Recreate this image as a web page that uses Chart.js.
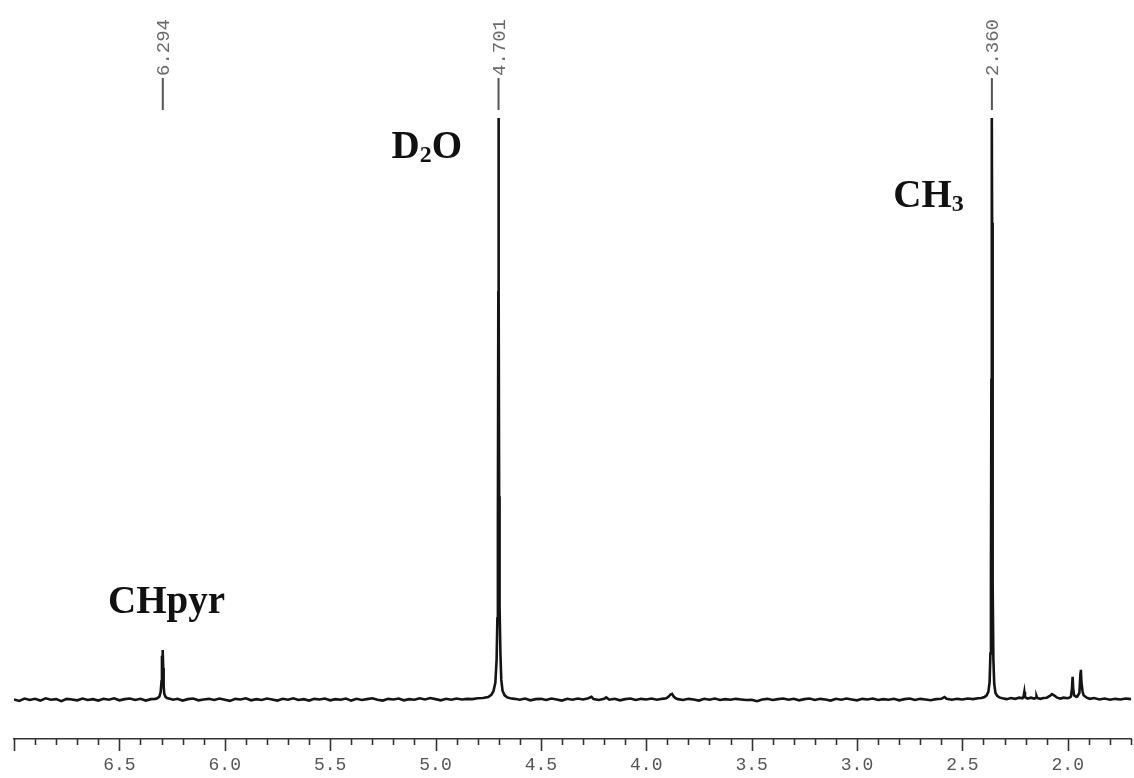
<!DOCTYPE html>
<html>
<head>
<meta charset="utf-8">
<title>1H NMR spectrum</title>
<script src="https://cdn.jsdelivr.net/npm/chart.js@4/dist/chart.umd.min.js"></script>
<style>
  html, body { margin: 0; padding: 0; background: #ffffff; }
  #wrap { width: 1134px; height: 778px; }
</style>
</head>
<body>
<div id="wrap"><canvas id="nmr" width="1134" height="778"></canvas></div>
<script>
// Chemical shift (ppm) of each recorded point, low field on the left.
const shiftPpm = [
  // 7.00 - 6.33 baseline
  7.000, 6.975, 6.950, 6.925, 6.900, 6.875, 6.850, 6.825, 6.800, 6.775, 6.750, 6.725, 6.700, 6.675,
  6.650, 6.625, 6.600, 6.575, 6.550, 6.525, 6.500, 6.475, 6.450, 6.425, 6.400, 6.375, 6.350, 6.330,
  // CHpyr signal
  6.320, 6.310, 6.304, 6.300, 6.298, 6.2965, 6.295, 6.294, 6.292, 6.290, 6.287, 6.282, 6.275, 6.260, 6.245,
  // 6.225 - 4.80 baseline
  6.225, 6.200, 6.175, 6.150, 6.125, 6.100, 6.075, 6.050, 6.025, 6.000, 5.975, 5.950, 5.925, 5.900, 5.875,
  5.850, 5.825, 5.800, 5.775, 5.750, 5.725, 5.700, 5.675, 5.650, 5.625, 5.600, 5.575, 5.550, 5.525, 5.500,
  5.475, 5.450, 5.425, 5.400, 5.375, 5.350, 5.325, 5.300, 5.275, 5.250, 5.225, 5.200, 5.175, 5.150, 5.125,
  5.100, 5.075, 5.050, 5.025, 5.000, 4.975, 4.950, 4.925, 4.900, 4.875, 4.850, 4.825, 4.800,
  // D2O (HDO) signal
  4.775, 4.750, 4.735, 4.725, 4.716, 4.710, 4.7065, 4.704, 4.702, 4.701, 4.700, 4.698, 4.696, 4.692, 4.688,
  4.682, 4.672, 4.660, 4.645,
  // 4.625 - 3.925 baseline
  4.625, 4.600, 4.575, 4.550, 4.525, 4.500, 4.475, 4.450, 4.425, 4.400, 4.375, 4.350, 4.325, 4.300, 4.275,
  4.260, 4.250, 4.225, 4.200, 4.190, 4.175, 4.150, 4.125, 4.100, 4.075, 4.050, 4.025, 4.000, 3.975, 3.950,
  3.925,
  // small signal near 3.88
  3.905, 3.895, 3.885, 3.878, 3.870, 3.860,
  // 3.85 - 2.41 baseline
  3.850, 3.825, 3.800, 3.775, 3.750, 3.725, 3.700, 3.675, 3.650, 3.625, 3.600, 3.575, 3.550, 3.525, 3.500,
  3.475, 3.450, 3.425, 3.400, 3.375, 3.350, 3.325, 3.300, 3.275, 3.250, 3.225, 3.200, 3.175, 3.150, 3.125,
  3.100, 3.075, 3.050, 3.025, 3.000, 2.975, 2.950, 2.925, 2.900, 2.875, 2.850, 2.825, 2.800, 2.775, 2.750,
  2.725, 2.700, 2.675, 2.650, 2.625, 2.600, 2.585, 2.575, 2.550, 2.525, 2.500, 2.475, 2.450, 2.425, 2.410,
  // CH3 signal
  2.395, 2.385, 2.377, 2.371, 2.367, 2.3645, 2.3625, 2.3610, 2.3600, 2.3590, 2.3575, 2.3555, 2.353, 2.349, 2.343,
  2.335, 2.325,
  // 2.31 - 1.70 with minor signals
  2.310, 2.290, 2.270, 2.250, 2.230, 2.215, 2.210, 2.206, 2.203, 2.190, 2.175, 2.160, 2.150, 2.148, 2.145,
  2.130, 2.115, 2.100, 2.085, 2.075, 2.065, 2.050, 2.035, 2.020, 2.000, 1.990, 1.985, 1.980, 1.977, 1.974,
  1.970, 1.960, 1.955, 1.945, 1.940, 1.938, 1.935, 1.930, 1.925, 1.910, 1.895, 1.875, 1.850, 1.825, 1.800,
  1.775, 1.750, 1.725, 1.700
];

// Intensity at each shift (0 = baseline, 100 = top of the plot window).
const intensity = [
  0.10, -0.15, 0.25, 0.00, 0.20, -0.10, 0.30, 0.05, 0.15, -0.20, 0.20, 0.10, -0.05, 0.25,
  0.00, 0.15, -0.10, 0.20, 0.05, 0.30, -0.05, 0.15, 0.25, 0.00, 0.20, -0.10, 0.15, 0.20,

  0.30, 0.60, 1.40, 3.20, 7.60, 6.80, 8.00, 8.60, 5.50, 2.40, 1.10, 0.60, 0.35, 0.20, 0.05,

  0.20, -0.10, 0.15, 0.25, -0.05, 0.10, 0.20, 0.00, 0.25, 0.05, -0.15, 0.20, 0.10, 0.30, -0.05,
  0.15, 0.00, 0.25, 0.10, -0.10, 0.20, 0.05, 0.30, 0.00, 0.15, -0.10, 0.20, 0.10, 0.25, -0.05,
  0.15, 0.05, 0.25, -0.10, 0.20, 0.00, 0.15, 0.30, 0.05, -0.10, 0.20, 0.10, 0.25, -0.05, 0.15,
  0.05, 0.30, 0.10, 0.35, 0.15, -0.05, 0.20, 0.05, 0.25, 0.10, 0.20, 0.15, 0.30,

  0.35, 0.50, 0.90, 1.50, 3.00, 7.00, 14.0, 30.0, 70.0, 100.0, 72.0, 35.0, 16.0, 8.00, 3.50,
  1.60, 0.80, 0.45, 0.30,

  0.20, 0.05, 0.25, -0.05, 0.15, 0.20, 0.00, 0.25, 0.10, -0.10, 0.20, 0.05, 0.25, 0.10, 0.30,
  0.55, 0.15, 0.00, 0.20, 0.45, 0.05, 0.20, -0.05, 0.15, 0.25, 0.00, 0.20, 0.10, 0.25, 0.05,
  0.20,

  0.30, 0.55, 0.95, 1.05, 0.60, 0.30,

  0.15, 0.00, 0.20, 0.10, -0.10, 0.20, 0.05, 0.25, 0.00, 0.15, 0.05, 0.20, 0.10, 0.00, 0.05,
  -0.20, 0.10, 0.20, 0.00, 0.15, 0.25, 0.05, 0.20, -0.05, 0.15, 0.25, 0.00, 0.20, 0.10, -0.10,
  0.20, 0.05, 0.25, 0.10, -0.05, 0.20, 0.10, 0.25, 0.00, 0.15, 0.05, 0.20, -0.05, 0.15, 0.25,
  0.00, 0.20, 0.10, -0.05, 0.15, 0.20, 0.50, 0.20, 0.05, 0.20, 0.10, 0.25, 0.15, 0.30, 0.35,

  0.50, 0.80, 1.40, 3.00, 8.00, 20.0, 55.0, 80.0, 100.0, 82.0, 58.0, 20.0, 7.00, 2.80, 1.20,
  0.70, 0.45,

  0.30, 0.15, 0.35, 0.20, 0.40, 0.30, 0.55, 1.40, 0.50, 0.25, 0.40, 0.25, 0.40, 0.65, 0.35,
  0.20, 0.35, 0.40, 0.70, 1.00, 0.80, 0.40, 0.25, 0.40, 0.30, 0.45, 0.60, 2.00, 4.00, 1.80,
  0.80, 0.55, 0.60, 1.20, 4.50, 5.20, 3.00, 1.50, 0.80, 0.40, 0.20, 0.35, 0.10, 0.25, 0.05,
  0.20, 0.10, 0.25, 0.15
];

// Picked peak positions printed above the spectrum.
const peakPicks = [6.294, 4.701, 2.360];

// Signal assignments: text pieces (sub = subscript), anchor shift and height.
const assignText = [
  [{ t: 'CHpyr' }],
  [{ t: 'D' }, { t: '2', sub: true }, { t: 'O' }],
  [{ t: 'CH' }, { t: '3', sub: true }]
];
const assignPpm = [6.276, 5.041, 2.661];
const assignHeight = [14.9, 93.1, 84.7];

// Axis settings
const ppmMin = 1.7;
const ppmMax = 7.0;
const tickStep = 0.1;

const points = shiftPpm.map((p, i) => ({ x: p, y: intensity[i] }));

const whiteBackground = {
  id: 'whiteBackground',
  beforeDraw(chart) {
    const c = chart.ctx;
    c.save();
    c.fillStyle = '#ffffff';
    c.fillRect(0, 0, chart.width, chart.height);
    c.restore();
  }
};

// Minor (0.1 ppm) and major (0.5 ppm) tick marks under the axis line.
const ppmTicks = {
  id: 'ppmTicks',
  afterDraw(chart) {
    const s = chart.scales.x;
    const c = chart.ctx;
    c.save();
    c.strokeStyle = '#333333';
    c.lineWidth = 1.6;
    s.ticks.forEach(t => {
      const tenth = Math.round(t.value * 10);
      const major = tenth % 5 === 0;
      const px = Math.round(s.getPixelForValue(t.value)) + 0.5;
      c.beginPath();
      c.moveTo(px, s.top);
      c.lineTo(px, s.top + (major ? 12 : 6));
      c.stroke();
    });
    c.restore();
  }
};

// Peak-pick markers and rotated shift values at the top of the plot.
const peakLabels = {
  id: 'peakLabels',
  afterDraw(chart) {
    const s = chart.scales.x;
    const c = chart.ctx;
    c.save();
    peakPicks.forEach(v => {
      const px = s.getPixelForValue(v);
      c.strokeStyle = '#555555';
      c.lineWidth = 2;
      c.beginPath();
      c.moveTo(px, 78);
      c.lineTo(px, 110);
      c.stroke();
      c.save();
      c.translate(px + 1.5, 76);
      c.rotate(-Math.PI / 2);
      c.fillStyle = '#6a6a6a';
      c.font = '19px "Liberation Mono", "DejaVu Sans Mono", monospace';
      c.textAlign = 'left';
      c.textBaseline = 'middle';
      c.fillText(v.toFixed(3), 0, 0);
      c.restore();
    });
    c.restore();
  }
};

// Bold serif assignment labels with subscripts.
const assignLabels = {
  id: 'assignLabels',
  afterDraw(chart) {
    const sx = chart.scales.x;
    const sy = chart.scales.y;
    const c = chart.ctx;
    const mainFont = 'bold 39px "Liberation Serif", "Times New Roman", serif';
    const subFont = 'bold 24px "Liberation Serif", "Times New Roman", serif';
    c.save();
    c.fillStyle = '#111111';
    c.textBaseline = 'alphabetic';
    c.textAlign = 'left';
    assignText.forEach((parts, i) => {
      let w = 0;
      parts.forEach(p => { c.font = p.sub ? subFont : mainFont; w += c.measureText(p.t).width; });
      let x = sx.getPixelForValue(assignPpm[i]) - w / 2;
      const y = sy.getPixelForValue(assignHeight[i]);
      parts.forEach(p => {
        c.font = p.sub ? subFont : mainFont;
        c.fillText(p.t, x, y + (p.sub ? 4 : 0));
        x += c.measureText(p.t).width;
      });
    });
    c.restore();
  }
};

new Chart(document.getElementById('nmr'), {
  type: 'line',
  data: {
    datasets: [{
      data: points,
      borderColor: '#141414',
      borderWidth: 2.6,
      pointRadius: 0,
      tension: 0,
      fill: false
    }]
  },
  options: {
    responsive: false,
    animation: false,
    events: [],
    layout: { padding: { top: 118, left: 14, right: 0, bottom: 0 } },
    plugins: { legend: { display: false }, tooltip: { enabled: false } },
    scales: {
      x: {
        type: 'linear',
        reverse: true,
        min: ppmMin,
        max: ppmMax,
        afterFit(scale) { scale.height = 39; },
        border: { display: true, color: '#333333', width: 1.6 },
        grid: { display: false, drawTicks: true, tickLength: 12 },
        ticks: {
          stepSize: tickStep,
          autoSkip: false,
          maxRotation: 0,
          minRotation: 0,
          padding: 3,
          color: '#555555',
          font: { family: '"Liberation Mono", "DejaVu Sans Mono", monospace', size: 18 },
          callback(value) {
            const tenth = Math.round(value * 10);
            if (tenth % 5 !== 0 || tenth >= 70) return '';
            return (tenth / 10).toFixed(1);
          }
        }
      },
      y: {
        display: false,
        min: -6.7,
        max: 100
      }
    }
  },
  plugins: [whiteBackground, ppmTicks, peakLabels, assignLabels]
});
</script>
</body>
</html>
